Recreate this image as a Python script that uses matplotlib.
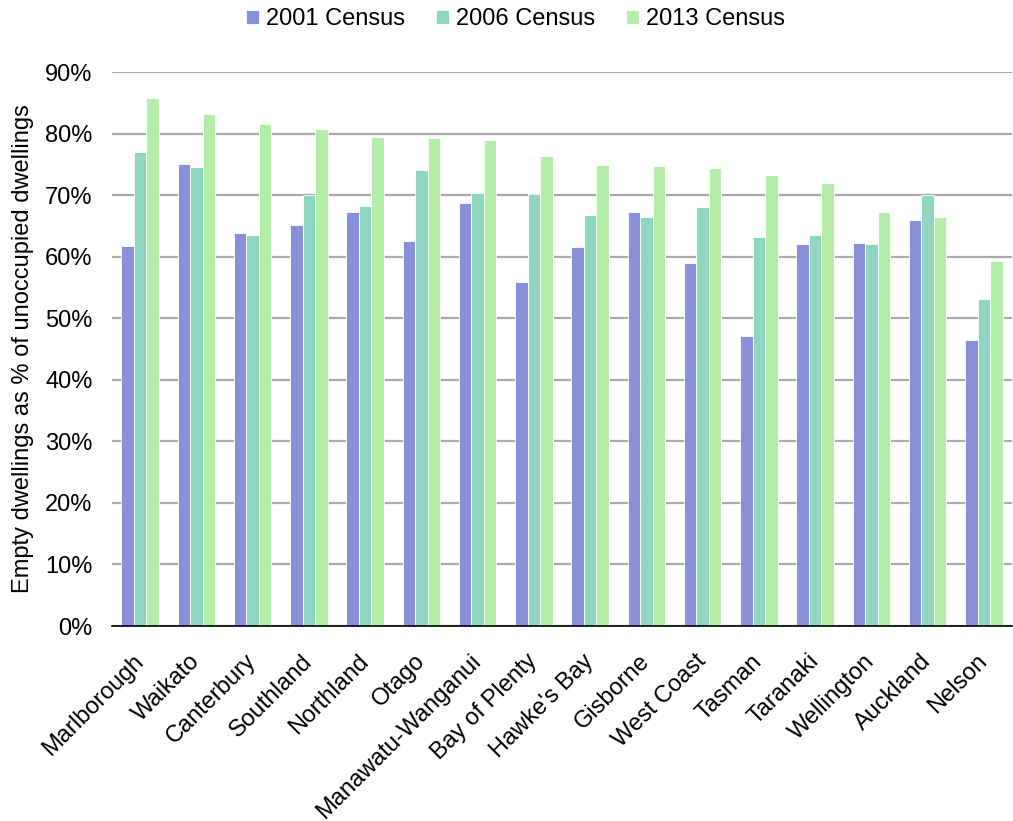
import matplotlib
matplotlib.use("Agg")
import matplotlib.pyplot as plt
import numpy as np
from matplotlib.ticker import FuncFormatter, MultipleLocator

plt.rcParams['font.family'] = ['Liberation Sans', 'DejaVu Sans']

regions = ["Marlborough", "Waikato", "Canterbury", "Southland", "Northland", "Otago",
           "Manawatu-Wanganui", "Bay of Plenty", "Hawke's Bay", "Gisborne", "West Coast",
           "Tasman", "Taranaki", "Wellington", "Auckland", "Nelson"]
census_2001 = [61.7, 75.0, 63.8, 65.2, 67.3, 62.5, 68.8, 55.9, 61.5, 67.2, 58.9, 47.1, 62.0, 62.2, 65.9, 46.5]
census_2006 = [77.0, 74.6, 63.5, 70.0, 68.3, 74.1, 70.4, 70.2, 66.7, 66.4, 68.1, 63.2, 63.6, 62.0, 70.0, 53.1]
census_2013 = [85.8, 83.1, 81.6, 80.8, 79.5, 79.2, 79.0, 76.3, 74.9, 74.7, 74.4, 73.2, 72.0, 67.3, 66.4, 59.3]
series_names = ["2001 Census", "2006 Census", "2013 Census"]
colors = ["#8790D9", "#8FD6C1", "#B4ECA9"]

FS = 17

fig = plt.figure(figsize=(10.13, 8.21), dpi=100)
ax = fig.add_axes([0.1106, 0.2375, 0.8884, 0.6748])

x = np.arange(len(regions))
w = 0.223
for i, (vals, name, c) in enumerate(zip([census_2001, census_2006, census_2013], series_names, colors)):
    ax.bar(x + (i - 1) * w, vals, w, color=c, label=name, edgecolor='white', linewidth=0.6, zorder=3)

ax.set_xlim(-0.5, len(regions) - 0.5)
ax.set_ylim(0, 90)
ax.yaxis.set_major_locator(MultipleLocator(10))
ax.yaxis.set_major_formatter(FuncFormatter(lambda v, p: f"{v:.0f}%"))
ax.grid(axis='y', color='#ABABAB', linewidth=1.6, zorder=0)
ax.set_axisbelow(True)
for s in ['top', 'right', 'left']:
    ax.spines[s].set_visible(False)
ax.spines['bottom'].set_color('black')
ax.spines['bottom'].set_linewidth(1.2)
ax.spines['bottom'].set_zorder(4)
ax.tick_params(axis='both', length=0, labelsize=FS, colors='black')
ax.tick_params(axis='y', pad=14)
ax.set_xticks(x)
ax.set_xticklabels(regions, rotation=45, ha='right', rotation_mode='anchor', va='center')
ax.tick_params(axis='x', pad=23)
ax.set_ylabel("Empty dwellings as % of unoccupied dwellings", fontsize=FS, labelpad=8)

leg = fig.legend(loc='center', bbox_to_anchor=(0.509, 1 - 19 / 821), ncol=3, frameon=False,
                 fontsize=FS, handlelength=0.55, handleheight=0.55, handletextpad=0.3,
                 columnspacing=1.3, borderpad=0)

fig.savefig("out.png", dpi=100)
